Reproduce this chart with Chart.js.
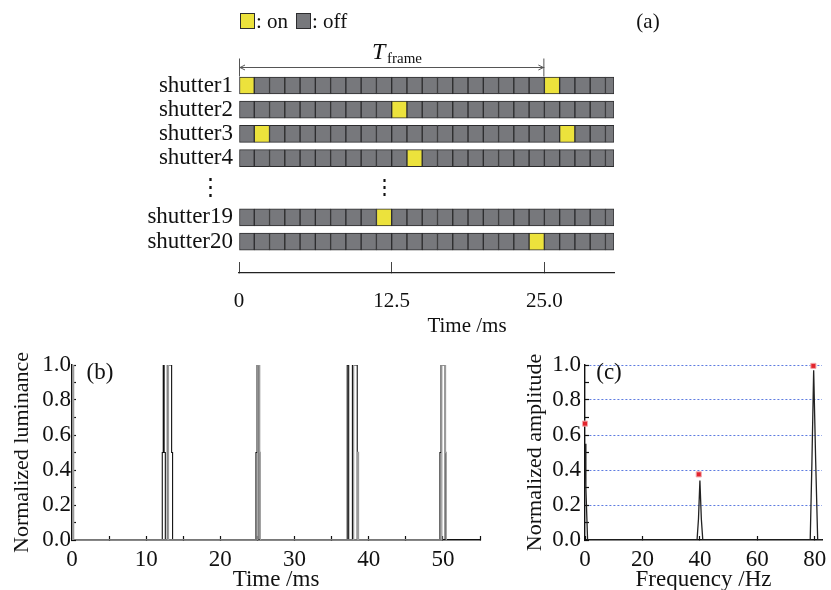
<!DOCTYPE html>
<html>
<head>
<meta charset="utf-8">
<script src="https://cdn.jsdelivr.net/npm/chart.js@4.4.0/dist/chart.umd.min.js"></script>
<style>
  html, body { margin: 0; padding: 0; background: #fff; }
  body { width: 831px; height: 590px; position: relative; overflow: hidden; }
  canvas { position: absolute; }
</style>
</head>
<body>
<canvas id="shutterChart" width="831" height="335" style="left:0;top:0"></canvas>
<canvas id="luminanceChart" width="490" height="250" style="left:0;top:340px"></canvas>
<canvas id="spectrumChart" width="341" height="250" style="left:490px;top:340px"></canvas>
<script>
// ---- (a) shutter timing ----
const shutterNames = ['shutter1', 'shutter2', 'shutter3', 'shutter4', 'shutter19', 'shutter20'];
const shutterRows = [0, 1, 2, 3, 5.45, 6.45];        // vertical slot of each row
const shutterOnSlots = [[0, 20], [10], [1, 21], [11], [9], [19]];
const slotMs = 1.25;
const slotCount = 25;
const windowEndMs = 30.7;
const gapRow = 4.24;                                  // the "⋮" row
const timeTicks = [0, 12.5, 25];
const timeTickLabels = ['0', '12.5', '25.0'];
const frameMs = 25;

// ---- (b) luminance traces ----
const blackT = [0, 0, 0.12, 0.12, 12.17, 12.17, 12.3, 12.3, 12.42, 12.42, 12.58, 12.58,
  12.85, 12.85, 13.43, 13.43, 13.56, 13.56, 24.8, 24.8, 24.95, 24.95, 25.2, 25.2,
  37.1, 37.1, 37.3, 37.3, 37.8, 37.8, 38.45, 38.45, 49.6, 49.6, 49.75, 49.75, 50.3, 50.3, 55];
const blackL = [0, 1, 1, 0, 0, 0.5, 0.5, 1, 1, 0.5, 0.5, 0,
  0, 1, 1, 0.5, 0.5, 0, 0, 0.5, 0.5, 1, 1, 0,
  0, 1, 1, 0, 0, 1, 1, 0, 0, 0.5, 0.5, 1, 1, 0, 0];
const greyT = [0.06, 0.06, 0.22, 0.22, 12.92, 12.92, 13.0, 13.0, 25.05, 25.05, 25.3, 25.3, 25.38, 25.38,
  37.9, 37.9, 38.0, 38.0, 38.5, 38.5, 38.62, 38.62, 49.85, 49.85, 50.35, 50.35, 50.45, 50.45];
const greyL = [0, 1, 1, 0, 0, 1, 1, 0, 0, 1, 1, 0.5, 0.5, 0,
  0, 1, 1, 0, 0, 0.5, 0.5, 0, 0, 1, 1, 0.5, 0.5, 0];

// ---- (c) amplitude spectrum ----
const specFreq = [0, 0.3, 0.9, 39.0, 39.5, 40.0, 40.5, 41.0, 78.4, 79.0, 79.6, 80.3, 81.0, 82.5];
const specAmp = [0.55, 0.3, 0, 0, 0.12, 0.34, 0.12, 0, 0, 0.45, 0.97, 0.45, 0, 0];
const peakFreq = [0, 39.6, 79.5];
const peakAmp = [0.665, 0.375, 0.995];

const ON = '#ece23c', OFF = '#77787c', EDGE = '#2c2c2e', INK = '#111';
const serif = "'Liberation Serif', 'DejaVu Serif', serif";
Chart.defaults.font.family = serif;
Chart.defaults.color = INK;

const pairs = (xs, ys) => xs.map((x, i) => ({ x, y: ys[i] }));

// little text label in the upper corner of a panel
const panelTag = (text, x, y) => ({
  id: 'tag' + text,
  afterDraw(chart) {
    const c = chart.ctx;
    c.save();
    c.font = '23px ' + serif;
    c.fillStyle = INK;
    c.textAlign = 'center';
    c.textBaseline = 'middle';
    c.fillText(text, x, y);
    c.restore();
  }
});

// ---------- (a) ----------
const cells = [];
shutterRows.forEach((row, r) => {
  for (let i = 0; i < slotCount; i++) {
    const start = i * slotMs;
    cells.push({ x: [start, Math.min(start + slotMs, windowEndMs)], y: row, on: shutterOnSlots[r].includes(i) });
  }
});

const shutterNotes = {
  id: 'shutterNotes',
  afterDraw(chart) {
    const c = chart.ctx, xs = chart.scales.x, ys = chart.scales.y;
    c.save();
    c.fillStyle = INK;
    c.font = '21px ' + serif;
    c.textBaseline = 'alphabetic';

    // legend
    c.lineWidth = 1;
    c.strokeStyle = EDGE;
    c.fillStyle = ON;  c.fillRect(240, 13, 15, 16); c.strokeRect(240.5, 13.5, 14, 15);
    c.fillStyle = INK; c.fillText(': on', 256, 28);
    c.fillStyle = OFF; c.fillRect(296, 13, 15, 16); c.strokeRect(296.5, 13.5, 14, 15);
    c.fillStyle = INK; c.fillText(': off', 312, 28);

    c.textAlign = 'center';
    c.fillText('(a)', 648, 28);

    // frame period arrow
    const x0 = xs.getPixelForValue(0), x1 = xs.getPixelForValue(frameMs);
    const ay = Math.round(ys.getPixelForValue(-0.76)) + 0.5;
    c.strokeStyle = '#555';
    c.beginPath();
    c.moveTo(x0, ay); c.lineTo(x1, ay);
    c.moveTo(x0 + 0.5, ay - 9); c.lineTo(x0 + 0.5, ay + 9);
    c.moveTo(x1 - 0.5, ay - 9); c.lineTo(x1 - 0.5, ay + 9);
    c.moveTo(x0 + 6, ay - 2.5); c.lineTo(x0 + 1, ay); c.lineTo(x0 + 6, ay + 2.5);
    c.moveTo(x1 - 6, ay - 2.5); c.lineTo(x1 - 1, ay); c.lineTo(x1 - 6, ay + 2.5);
    c.stroke();
    c.textAlign = 'left';
    c.font = 'italic 24px ' + serif;
    c.fillText('T', 372, 59);
    c.font = '15px ' + serif;
    c.fillText('frame', 387, 63);

    // skipped rows marker inside the grid
    c.textAlign = 'center';
    c.textBaseline = 'middle';
    c.font = '21px ' + serif;
    c.fillText('⋮', xs.getPixelForValue(11.9), ys.getPixelForValue(gapRow));

    // axis title
    c.textBaseline = 'alphabetic';
    c.fillText('Time /ms', 467, 332);
    c.restore();
  }
};

new Chart(document.getElementById('shutterChart'), {
  type: 'bar',
  data: {
    datasets: [{
      data: cells,
      backgroundColor: ctx => (ctx.raw && ctx.raw.on ? ON : OFF),
      borderColor: EDGE,
      borderWidth: 1,
      borderSkipped: false,
      barThickness: 17
    }]
  },
  options: {
    indexAxis: 'y',
    responsive: false,
    animation: false,
    layout: { padding: { left: 0, top: 10, right: 217, bottom: 0 } },
    plugins: { legend: { display: false }, tooltip: { enabled: false } },
    scales: {
      x: {
        type: 'linear', min: 0, max: windowEndMs,
        afterBuildTicks: s => { s.ticks = timeTicks.map(v => ({ value: v })); },
        afterFit: s => { s.height = 62; s.paddingLeft = 0; s.paddingRight = 0; },
        ticks: { font: { size: 21 }, padding: 27, maxRotation: 0, autoSkip: false,
          callback: (v, i) => timeTickLabels[i] },
        grid: { drawOnChartArea: false, tickLength: -11, tickColor: '#444', tickWidth: 1 },
        border: { color: '#222', width: 1.3 }
      },
      y: {
        type: 'linear', min: -3.12, max: 7.75, reverse: true, offset: false,
        afterBuildTicks: s => { s.ticks = shutterRows.concat([gapRow]).map(v => ({ value: v })); },
        afterFit: s => { s.width = 239; s.paddingTop = 0; s.paddingBottom = 0; },
        ticks: { font: { size: 23 }, padding: 6, autoSkip: false,
          callback: (v, i) => (i < shutterNames.length ? shutterNames[i] : '⋮\u2002') },
        grid: { display: false, drawTicks: false, offset: false },
        border: { display: false }
      }
    }
  },
  plugins: [shutterNotes]
});

// ---------- (b) and (c) axes ----------
const axisX = (min, max, step, every, title) => ({
  type: 'linear', min, max,
  afterBuildTicks: s => {
    const t = [];
    for (let v = min; v <= max + 1e-9; v += step) t.push({ value: v });
    s.ticks = t;
  },
  afterFit: s => { s.height = 50; s.paddingLeft = 0; s.paddingRight = 0; },
  ticks: { font: { size: 23 }, padding: 10, maxRotation: 0, autoSkip: false,
    callback: v => (Math.round(v) % every === 0 ? String(Math.round(v)) : '') },
  grid: { drawOnChartArea: false, tickLength: -4, tickColor: INK, tickWidth: 1.2 },
  border: { color: INK, width: 1.4 },
  title: { display: true, text: title, font: { size: 23, lineHeight: 1 }, padding: { top: 0, bottom: -1 } }
});
const axisY = (width, title, titlePad, labelPad, gridColor) => ({
  min: 0, max: 1,
  afterFit: s => { s.width = width; s.paddingTop = 0; s.paddingBottom = 0; },
  ticks: { stepSize: 0.1, font: { size: 23 }, padding: labelPad, autoSkip: false,
    callback: (v, i) => (i % 2 === 0 ? v.toFixed(1) : '') },
  grid: { drawOnChartArea: !!gridColor, color: gridColor || 'transparent', tickLength: -4, tickColor: INK, tickWidth: 1.2 },
  border: { color: INK, width: 1.4, dash: [2, 2] },
  title: { display: true, text: title, font: { size: 22, lineHeight: 1 }, padding: { top: titlePad, bottom: 0 } }
});

// ---------- (b) ----------
new Chart(document.getElementById('luminanceChart'), {
  type: 'line',
  data: {
    datasets: [
      { data: pairs(greyT, greyL), borderColor: '#9b9b9b', borderWidth: 1.3 },
      { data: pairs(blackT, blackL), borderColor: INK, borderWidth: 1.1 }
    ]
  },
  options: {
    responsive: false,
    animation: false,
    layout: { padding: { left: 0, top: 25, right: 10, bottom: 0 } },
    elements: { point: { radius: 0 }, line: { tension: 0 } },
    plugins: { legend: { display: false }, tooltip: { enabled: false } },
    scales: {
      x: axisX(0, 55, 5, 10, 'Time /ms'),
      y: axisY(72, 'Normalized luminance', 11, 5, null)
    }
  },
  plugins: [panelTag('(b)', 100, 33)]
});

// ---------- (c) ----------
new Chart(document.getElementById('spectrumChart'), {
  type: 'line',
  data: {
    datasets: [
      { data: pairs(specFreq, specAmp), borderColor: '#222', borderWidth: 1.3, pointRadius: 0 },
      { data: pairs(peakFreq, peakAmp), showLine: false, pointStyle: 'rect', pointRadius: 3.6,
        backgroundColor: '#e3242d', borderColor: '#f2a9ab', borderWidth: 1, clip: false }
    ]
  },
  options: {
    responsive: false,
    animation: false,
    layout: { padding: { left: 0, top: 25, right: 9, bottom: 0 } },
    elements: { line: { tension: 0 } },
    plugins: { legend: { display: false }, tooltip: { enabled: false } },
    scales: {
      x: axisX(0, 82.5, 20, 20, 'Frequency /Hz'),
      y: axisY(95, 'Normalized amplitude', 34, 8,
        ctx => (ctx.tick && ctx.index % 2 === 0 && ctx.tick.value > 0.01 ? '#5d7be0' : 'rgba(0,0,0,0)'))
    }
  },
  plugins: [panelTag('(c)', 119, 33)]
});
</script>
</body>
</html>
